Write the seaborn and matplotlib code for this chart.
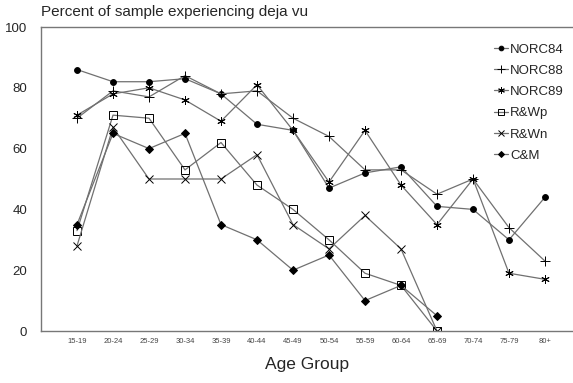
import matplotlib
matplotlib.use("Agg")
import matplotlib.pyplot as plt
import seaborn as sns
import pandas as pd
import numpy as np

sns.set_style("white")
plt.rcParams['font.family'] = ['Liberation Sans', 'DejaVu Sans']

age_groups = ["15-19", "20-24", "25-29", "30-34", "35-39", "40-44", "45-49",
              "50-54", "55-59", "60-64", "65-69", "70-74", "75-79", "80+"]

norc84 = [86, 82, 82, 83, 78, 68, 66, 47, 52, 54, 41, 40, 30, 44]
norc88 = [70, 79, 77, 84, 78, 79, 70, 64, 53, 53, 45, 50, 34, 23]
norc89 = [71, 78, 80, 76, 69, 81, 66, 49, 66, 48, 35, 50, 19, 17]
rwp = [33, 71, 70, 53, 62, 48, 40, 30, 19, 15, 0]
rwn = [28, 67, 50, 50, 50, 58, 35, 27, 38, 27, 0]
cm = [35, 65, 60, 65, 35, 30, 20, 25, 10, 15, 5]

series_names = ["NORC84", "NORC88", "NORC89", "R&Wp", "R&Wn", "C&M"]
series_vals = [norc84, norc88, norc89, rwp, rwn, cm]
markers = ["o", "+", (6, 2, 0), "s", "x", "D"]
msizes = [4.2, 7, 6, 5.5, 6, 3.8]
facecolors = ["black", "black", "black", "none", "black", "black"]

fig = plt.figure(figsize=(5.73, 3.83), dpi=100)
ax = fig.add_axes([41/573, 52/383, 1 - 41/573, 304/383])

line_color = "#707070"
for name, vals, mk, ms, fc in zip(series_names, series_vals, markers, msizes, facecolors):
    df = pd.DataFrame({"x": np.arange(len(vals)), "y": vals})
    sns.lineplot(data=df, x="x", y="y", ax=ax, color=line_color, linewidth=0.9,
                 marker=mk, markersize=ms, markerfacecolor=fc,
                 markeredgecolor="black", markeredgewidth=0.7, label=name)

ax.set_xlim(-1, (573 - 77) / 36)
ax.set_ylim(0, 100)
ax.set_xticks(range(len(age_groups)))
ax.set_xticklabels(age_groups, fontsize=5.5, color="#444444")
ax.set_yticks([0, 20, 40, 60, 80, 100])
ax.set_yticklabels(["0", "20", "40", "60", "80", "100"], fontsize=9.5)
ax.tick_params(axis="x", direction="in", length=5, width=0.8, color="#777777", pad=5)
ax.tick_params(axis="y", direction="in", length=5, width=0.8, color="#777777", pad=10)

for side in ["left", "top", "bottom"]:
    ax.spines[side].set_color("#777777")
    ax.spines[side].set_linewidth(1.0)
ax.spines["right"].set_visible(False)

ax.set_xlabel("Age Group", fontsize=12.5, labelpad=9)
ax.set_ylabel("")
fig.text(41/573, 1 - 12/383, "Percent of sample experiencing deja vu",
         fontsize=11, va="center", ha="left")

leg = ax.legend(loc="upper right", bbox_to_anchor=(1.005, 0.985), frameon=False,
                fontsize=9.5, handlelength=1.1, handletextpad=0.15, labelspacing=0.68,
                markerscale=0.8)

fig.savefig("out.png", dpi=100)
